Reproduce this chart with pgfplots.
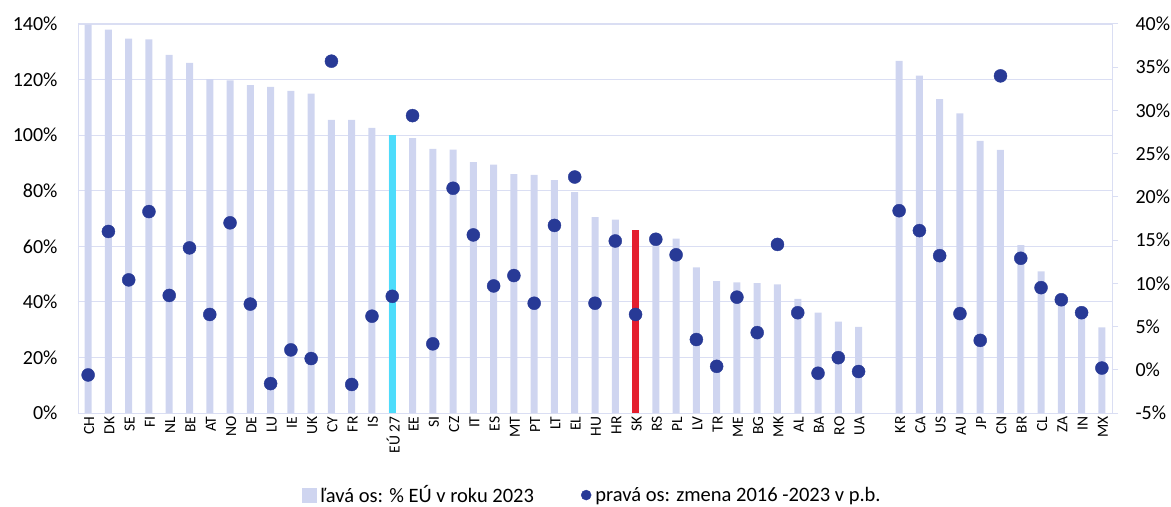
\documentclass[border=0pt]{standalone}
\usepackage{fontspec}
\setmainfont{Carlito}
\usepackage{pgfplots}
\usepackage{pgfplotstable}
\pgfplotsset{compat=1.18}
\usetikzlibrary{calc}
\definecolor{barc}{RGB}{207,213,240}
\definecolor{gridc}{RGB}{218,222,243}
\definecolor{euc}{RGB}{77,220,251}
\definecolor{skc}{RGB}{228,30,46}
\definecolor{dotc}{RGB}{40,58,150}

% idx, bar = % of EU in 2023 (left axis), dot = change 2016-2023 in p.p. (right axis)
\pgfplotstableread{
idx bar dot
0 139.8 -0.6
1 138.0 16.0
2 134.7 10.4
3 134.5 18.3
4 128.9 8.6
5 126.0 14.1
6 120.2 6.4
7 119.7 17.0
8 118.0 7.6
9 117.4 -1.6
10 115.9 2.3
11 114.9 1.3
12 105.5 35.7
13 105.5 -1.7
14 102.6 6.2
15 100.0 8.5
16 98.9 29.4
17 95.1 3.0
18 94.8 21.0
19 90.3 15.6
20 89.4 9.7
21 86.0 10.9
22 85.7 7.7
23 83.8 16.7
24 79.5 22.3
25 70.5 7.7
26 69.6 14.9
27 65.8 6.4
28 64.0 15.1
29 62.8 13.3
30 52.4 3.5
31 47.5 0.4
32 47.0 8.4
33 46.7 4.3
34 46.3 14.5
35 41.1 6.6
36 36.1 -0.4
37 32.9 1.4
38 31.0 -0.2
40 126.7 18.4
41 121.4 16.1
42 113.0 13.2
43 107.8 6.5
44 97.9 3.4
45 94.7 34.0
46 60.4 12.9
47 51.0 9.5
48 41.0 8.1
49 36.0 6.6
50 30.8 0.2
}\datatable

\pgfplotsset{
  common/.style={
    width=1034pt, height=389pt, scale only axis,
    xmin=-0.5, xmax=50.5,
    axis line style={gridc},
  }
}

\begin{document}
\begin{tikzpicture}
\begin{axis}[
    common, name=ax1,
    ybar, bar width=7pt, bar shift=0pt,
    ymin=0, ymax=140,
    ytick={0,20,...,140},
    yticklabels={0\%,20\%,40\%,60\%,80\%,100\%,120\%,140\%},
    yticklabel style={font=\fontsize{20}{24}\selectfont, xshift=-17pt},
    xtick={0,1,...,38,40,41,...,50},
    xticklabels={CH,DK,SE,FI,NL,BE,AT,NO,DE,LU,IE,UK,CY,FR,IS,{EÚ 27},EE,SI,CZ,IT,ES,MT,PT,LT,EL,HU,HR,SK,RS,PL,LV,TR,ME,BG,MK,AL,BA,RO,UA,KR,CA,US,AU,JP,CN,BR,CL,ZA,IN,MX},
    xticklabel style={rotate=90, anchor=east, font=\fontsize{15.5}{18}\selectfont, yshift=-1pt},
    major tick length=0pt,
    ymajorgrids, grid style={gridc, line width=1pt},
]
\addplot[fill=barc, draw=none] table[x=idx, y=bar] {\datatable};
\addplot[fill=euc, draw=none] coordinates {(15,100.0)};
\addplot[fill=skc, draw=none] coordinates {(27,65.8)};
\end{axis}

\begin{axis}[
    common,
    axis x line=none,
    axis y line*=right,
    ymin=-5, ymax=40,
    ytick={-5,0,...,40},
    yticklabels={-5\%,0\%,5\%,10\%,15\%,20\%,25\%,30\%,35\%,40\%},
    yticklabel style={font=\fontsize{20}{24}\selectfont, xshift=14pt},
    tick align=outside, major tick length=6pt,
    ytick style={gridc, line width=1pt},
    legend style={at={(0.4965,-0.211)}, anchor=center, draw=none, fill=none,
      legend columns=2, font=\fontsize{20.5}{24}\selectfont,
      nodes={inner sep=0pt},
      /tikz/every odd column/.append style={column sep=4pt},
      /tikz/every even column/.append style={column sep=47pt},
      inner sep=0pt},
]
\addlegendimage{legend image code/.code={\fill[barc] (0pt,-7pt) rectangle (14pt,7pt);}}
\addlegendentry{ľavá os: \% EÚ v roku 2023}
\addplot[only marks, mark=*, mark size=6.5pt, color=dotc,
  legend image code/.code={\fill[dotc] (5pt,0pt) circle (5pt);}]
  table[x=idx, y=dot] {\datatable};
\addlegendentry{pravá os: zmena 2016 -2023 v p.b.}
\end{axis}

\pgfresetboundingbox
\path ($(ax1.south west)+(-78pt,-93pt)$) rectangle ($(ax1.north east)+(59pt,24pt)$);
\end{tikzpicture}
\end{document}
